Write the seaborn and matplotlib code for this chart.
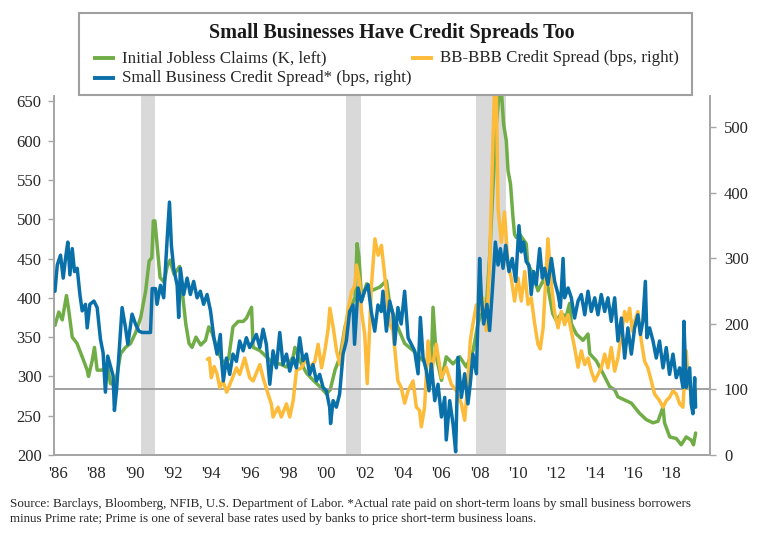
import matplotlib
matplotlib.use("Agg")
import matplotlib.pyplot as plt
from matplotlib.patches import Rectangle
from matplotlib.lines import Line2D
import seaborn as sns

# ---------------- data ----------------
claims_year = [1985.85, 1986.05, 1986.23, 1986.45, 1986.57, 1986.75, 1987.0, 1987.27, 1987.53, 1987.6,
               1987.79, 1987.91, 1988.05, 1988.31, 1988.57, 1988.74, 1989.0, 1989.27, 1989.53, 1989.79,
               1990.06, 1990.32, 1990.58, 1990.76, 1990.9, 1990.98, 1991.06, 1991.2, 1991.33, 1991.54,
               1991.7, 1991.85, 1992.06, 1992.35, 1992.5, 1992.67, 1992.84, 1993.0, 1993.2, 1993.45,
               1993.7, 1993.87, 1994.05, 1994.3, 1994.6, 1994.9, 1995.13, 1995.4, 1995.66, 1995.83,
               1996.1, 1996.18, 1996.53, 1996.88, 1997.23, 1997.57, 1997.92, 1998.27, 1998.36, 1998.62,
               1998.97, 1999.32, 1999.66, 2000.0, 2000.2, 2000.45, 2000.71, 2000.97, 2001.23, 2001.5,
               2001.6, 2001.7, 2001.84, 2002.1, 2002.44, 2002.8, 2003.13, 2003.3, 2003.65, 2004.08,
               2004.52, 2005.04, 2005.47, 2005.56, 2005.73, 2006.0, 2006.25, 2006.6, 2006.95, 2007.3,
               2007.65, 2007.9, 2008.16, 2008.33, 2008.51, 2008.68, 2008.86, 2009.03, 2009.12, 2009.24,
               2009.38, 2009.47, 2009.6, 2009.73, 2009.81, 2009.9, 2010.07, 2010.42, 2010.5, 2010.77,
               2011.03, 2011.3, 2011.55, 2011.8, 2011.99, 2012.25, 2012.5, 2012.68, 2012.77, 2013.03,
               2013.38, 2013.64, 2013.73, 2014.07, 2014.42, 2014.77, 2015.03, 2015.2, 2015.55, 2015.9,
               2016.33, 2016.68, 2017.03, 2017.29, 2017.55, 2017.63, 2017.9, 2018.24, 2018.5, 2018.76,
               2019.02, 2019.14, 2019.25]
claims_k = [365, 382, 372, 403, 384, 350, 342, 325, 308, 300,
            320, 337, 308, 308, 316, 291, 289, 329, 337, 342,
            356, 375, 409, 447, 451, 498, 498, 460, 426, 420,
            440, 448, 430, 440, 405, 367, 342, 337, 350, 340,
            346, 363, 355, 335, 318, 322, 363, 370, 370, 374,
            388, 337, 333, 325, 316, 316, 312, 325, 337, 320,
            304, 295, 287, 278, 283, 308, 325, 363, 384, 401,
            469, 452, 397, 418, 410, 414, 422, 393, 367, 342,
            333, 320, 316, 388, 325, 295, 325, 316, 325, 312,
            333, 367, 388, 384, 452, 537, 621, 665, 665, 621,
            600, 562, 545, 502, 481, 477, 481, 469, 443, 431,
            409, 422, 414, 380, 371, 380, 376, 393, 367, 354,
            346, 354, 329, 320, 304, 287, 283, 274, 270, 266,
            253, 245, 241, 243, 261, 241, 223, 221, 213, 223,
            219, 213, 228]

bbb_year = [1993.8, 1993.9, 1994.0, 1994.15, 1994.3, 1994.44, 1994.61, 1994.8, 1995.0, 1995.31,
            1995.48, 1995.74, 1996.0, 1996.18, 1996.53, 1996.7, 1996.96, 1997.13, 1997.22, 1997.48,
            1997.65, 1997.92, 1998.09, 1998.27, 1998.44, 1998.7, 1998.97, 1999.14, 1999.4, 1999.57,
            1999.75, 1999.92, 2000.1, 2000.18, 2000.36, 2000.53, 2000.71, 2000.88, 2001.14, 2001.31,
            2001.48, 2001.57, 2001.74, 2001.83, 2002.0, 2002.13, 2002.35, 2002.53, 2002.7, 2002.87,
            2003.0, 2003.13, 2003.3, 2003.47, 2003.73, 2003.9, 2004.08, 2004.26, 2004.52, 2004.69,
            2004.86, 2004.95, 2005.12, 2005.3, 2005.47, 2005.73, 2006.0, 2006.25, 2006.51, 2006.77,
            2007.04, 2007.21, 2007.38, 2007.5, 2007.64, 2007.82, 2007.99, 2008.16, 2008.34, 2008.51,
            2008.68, 2008.77, 2008.86, 2008.95, 2009.12, 2009.29, 2009.47, 2009.64, 2009.81, 2009.99,
            2010.16, 2010.34, 2010.51, 2010.68, 2010.86, 2011.03, 2011.15, 2011.3, 2011.47, 2011.55,
            2011.73, 2011.9, 2012.08, 2012.25, 2012.42, 2012.6, 2012.77, 2012.94, 2013.12, 2013.29,
            2013.47, 2013.64, 2013.81, 2013.99, 2014.16, 2014.33, 2014.51, 2014.68, 2014.85, 2015.03,
            2015.2, 2015.38, 2015.55, 2015.67, 2015.81, 2015.95, 2016.07, 2016.24, 2016.42, 2016.59,
            2016.76, 2016.94, 2017.11, 2017.37, 2017.55, 2017.72, 2017.89, 2018.07, 2018.24, 2018.42,
            2018.59, 2018.76, 2018.88, 2019.02, 2019.14, 2019.25]
bbb_bps = [146, 148, 118, 135, 124, 103, 113, 96, 110, 133,
           123, 148, 118, 113, 138, 118, 93, 78, 58, 73,
           58, 78, 58, 83, 129, 133, 148, 133, 143, 169,
           133, 159, 194, 224, 194, 159, 138, 174, 224, 249,
           259, 290, 264, 219, 184, 109, 259, 330, 305, 320,
           285, 250, 200, 190, 113, 103, 79, 98, 113, 73,
           68, 43, 73, 174, 124, 169, 118, 134, 108, 98,
           78, 53, 113, 174, 200, 229, 219, 240, 190, 290,
           477, 560, 555, 376, 325, 371, 290, 270, 235, 270,
           235, 280, 230, 240, 200, 169, 162, 194, 285, 330,
           260, 217, 194, 219, 199, 214, 189, 164, 134, 159,
           138, 148, 128, 113, 123, 133, 154, 133, 164, 128,
           148, 184, 219, 204, 224, 189, 204, 219, 174, 143,
           133, 113, 93, 83, 73, 83, 88, 98, 93, 78,
           73, 159, 103, 98, 73, 98]

sb_year = [1985.85, 1985.97, 1986.14, 1986.28, 1986.4, 1986.52, 1986.63, 1986.75, 1986.87, 1987.01,
           1987.15, 1987.27, 1987.44, 1987.53, 1987.67, 1987.88, 1988.05, 1988.22, 1988.36, 1988.48,
           1988.6, 1988.74, 1988.88, 1988.95, 1989.06, 1989.18, 1989.35, 1989.53, 1989.65, 1989.87,
           1990.06, 1990.23, 1990.4, 1990.83, 1990.92, 1991.09, 1991.17, 1991.35, 1991.52, 1991.7,
           1991.82, 1991.92, 1992.04, 1992.22, 1992.3, 1992.39, 1992.56, 1992.74, 1992.91, 1993.08,
           1993.26, 1993.43, 1993.6, 1993.78, 1993.96, 1994.13, 1994.3, 1994.47, 1994.55, 1994.63,
           1994.79, 1994.96, 1995.13, 1995.31, 1995.48, 1995.66, 1995.83, 1996.0, 1996.18, 1996.35,
           1996.53, 1996.7, 1996.87, 1997.05, 1997.22, 1997.39, 1997.57, 1997.74, 1997.92, 1998.09,
           1998.27, 1998.44, 1998.61, 1998.78, 1998.96, 1999.13, 1999.3, 1999.48, 1999.65, 1999.83,
           2000.0, 2000.17, 2000.22, 2000.35, 2000.52, 2000.69, 2000.87, 2001.04, 2001.21, 2001.39,
           2001.47, 2001.65, 2001.82, 2001.99, 2002.17, 2002.34, 2002.52, 2002.69, 2002.86, 2002.95,
           2003.13, 2003.3, 2003.47, 2003.56, 2003.73, 2003.9, 2004.08, 2004.26, 2004.43, 2004.6,
           2004.78, 2004.9, 2005.04, 2005.21, 2005.35, 2005.47, 2005.65, 2005.82, 2006.0, 2006.17,
           2006.25, 2006.43, 2006.6, 2006.74, 2006.86, 2007.04, 2007.21, 2007.38, 2007.5, 2007.64,
           2007.82, 2007.99, 2008.08, 2008.2, 2008.37, 2008.51, 2008.65, 2008.81, 2008.95, 2009.07,
           2009.21, 2009.35, 2009.52, 2009.69, 2009.87, 2010.04, 2010.16, 2010.28, 2010.42, 2010.56,
           2010.68, 2010.8, 2010.94, 2011.12, 2011.26, 2011.38, 2011.55, 2011.73, 2011.9, 2012.08,
           2012.2, 2012.34, 2012.42, 2012.6, 2012.77, 2012.94, 2013.12, 2013.29, 2013.47, 2013.64,
           2013.81, 2013.99, 2014.16, 2014.33, 2014.51, 2014.68, 2014.85, 2015.03, 2015.2, 2015.38,
           2015.55, 2015.72, 2015.9, 2016.07, 2016.24, 2016.37, 2016.5, 2016.63, 2016.71, 2016.85,
           2017.03, 2017.2, 2017.37, 2017.55, 2017.72, 2017.89, 2018.07, 2018.24, 2018.42, 2018.59,
           2018.64, 2018.76, 2018.94, 2019.02, 2019.11, 2019.2, 2019.25]
sb_bps = [250, 290, 305, 270, 300, 325, 275, 315, 280, 285,
          245, 220, 230, 194, 230, 235, 225, 177, 156, 96,
          151, 136, 121, 68, 99, 151, 225, 194, 169, 215,
          199, 189, 187, 187, 254, 254, 230, 259, 240, 330,
          386, 320, 285, 259, 210, 285, 245, 270, 245, 265,
          240, 250, 230, 245, 220, 180, 154, 184, 139, 113,
          148, 123, 154, 143, 174, 159, 179, 164, 174, 184,
          164, 192, 169, 108, 159, 133, 187, 138, 154, 128,
          148, 133, 179, 144, 154, 123, 138, 113, 123, 103,
          98, 73, 48, 83, 73, 93, 154, 174, 219, 229,
          169, 255, 234, 250, 260, 219, 189, 229, 219, 250,
          189, 235, 215, 169, 225, 200, 250, 179, 169, 159,
          124, 210, 149, 129, 98, 139, 83, 108, 58, 88,
          23, 83, 48, 5, 149, 88, 124, 78, 108, 154,
          124, 300, 240, 200, 230, 190, 250, 325, 290, 315,
          285, 320, 280, 300, 265, 350, 310, 325, 295, 290,
          245, 280, 260, 315, 270, 285, 260, 300, 265, 245,
          225, 300, 240, 255, 240, 209, 235, 245, 214, 250,
          219, 240, 214, 245, 219, 240, 204, 240, 174, 209,
          148, 194, 154, 194, 214, 184, 204, 265, 179, 194,
          174, 148, 174, 133, 164, 123, 154, 118, 133, 103,
          204, 103, 133, 78, 63, 118, 73]

recession_start = [1990.33, 2001.01, 2007.82]
recession_end = [1991.09, 2001.82, 2009.37]

year_ticks = list(range(1986, 2019, 2))
year_labels = ["'%02d" % (y % 100) for y in year_ticks]
claims_ticks = list(range(200, 651, 50))
bps_ticks = list(range(0, 501, 100))

title = "Small Businesses Have Credit Spreads Too"
lbl_claims = "Initial Jobless Claims (K, left)"
lbl_bbb = "BB-BBB Credit Spread (bps, right)"
lbl_sb = "Small Business Credit Spread* (bps, right)"
source = ("Source: Barclays, Bloomberg, NFIB, U.S. Department of Labor. *Actual rate paid on short-term loans by small business borrowers\n"
          "minus Prime rate; Prime is one of several base rates used by banks to price short-term business loans.")

# ---------------- style ----------------
sns.set_theme(style="white")
plt.rcParams['font.family'] = ['Liberation Serif', 'DejaVu Serif']
GREEN, YELLOW, BLUE = '#70ad47', '#fdbb3a', '#0a70aa'
SPINE = '#a6a6a6'
TXT = '#262626'

W, H = 768, 536
fig = plt.figure(figsize=(W / 100, H / 100), dpi=100)
L, R, B, T = 54, 710, 455, 96
ax = fig.add_axes([L / W, 1 - B / H, (R - L) / W, (B - T) / H])
ax2 = ax.twinx()

for s, e in zip(recession_start, recession_end):
    ax.axvspan(s, e, color='#d9d9d9', lw=0, zorder=0)

sns.lineplot(x=claims_year, y=claims_k, ax=ax, color=GREEN, lw=2.5,
             estimator=None, sort=False, zorder=3)
ax2.axhline(100, color='#9a9a9a', lw=1.3, zorder=1)
sns.lineplot(x=bbb_year, y=bbb_bps, ax=ax2, color=YELLOW, lw=2.5,
             estimator=None, sort=False, zorder=3)
sns.lineplot(x=sb_year, y=sb_bps, ax=ax2, color=BLUE, lw=2.5,
             estimator=None, sort=False, zorder=4)

ax.set_xlim(1985.8, 2020.0)
ax.set_ylim(200, 657)
ax2.set_ylim(0, 548)
ax.set_xticks(year_ticks)
ax.set_xticklabels(year_labels)
ax.set_yticks(claims_ticks)
ax2.set_yticks(bps_ticks)
for a in (ax, ax2):
    a.set_xlabel('')
    a.set_ylabel('')
    a.grid(False)
    for sp in a.spines.values():
        sp.set_color(SPINE)
        sp.set_linewidth(1.3)
    a.spines['top'].set_visible(False)

ax.tick_params(axis='x', length=0, pad=8, labelsize=12, colors=TXT)
ax.tick_params(axis='y', left=True, length=4, width=1, color=SPINE, pad=5,
               labelsize=12, labelcolor=TXT)
ax2.tick_params(axis='y', right=True, length=4, width=1, color=SPINE, pad=6,
                labelsize=12, labelcolor=TXT)

# ---------------- title / legend box ----------------
fig.add_artist(Rectangle((79 / W, 1 - 95 / H), (692 - 79) / W, (95 - 13) / H,
                         transform=fig.transFigure, facecolor='white',
                         edgecolor='#a0a0a0', lw=1.5, zorder=10))
fig.text(392 / W, 1 - 33 / H, title, ha='center', va='center',
         fontsize=14.5, fontweight='bold', color='#1a1a1a', zorder=11)

def legend_item(x0, y0, color, label):
    fig.add_artist(Line2D([x0 / W, (x0 + 22) / W], [1 - y0 / H, 1 - y0 / H],
                          transform=fig.transFigure, color=color, lw=2.8,
                          solid_capstyle='butt', zorder=11))
    fig.text((x0 + 29) / W, 1 - y0 / H, label, ha='left', va='center',
             fontsize=12.2, color=TXT, zorder=11)

legend_item(93, 58, GREEN, lbl_claims)
legend_item(411, 58, YELLOW, lbl_bbb)
legend_item(93, 78, BLUE, lbl_sb)

fig.text(10 / W, 1 - 498 / H, source, ha='left', va='top', fontsize=9.4,
         color=TXT, linespacing=1.3)

fig.savefig('out.png', dpi=100)
